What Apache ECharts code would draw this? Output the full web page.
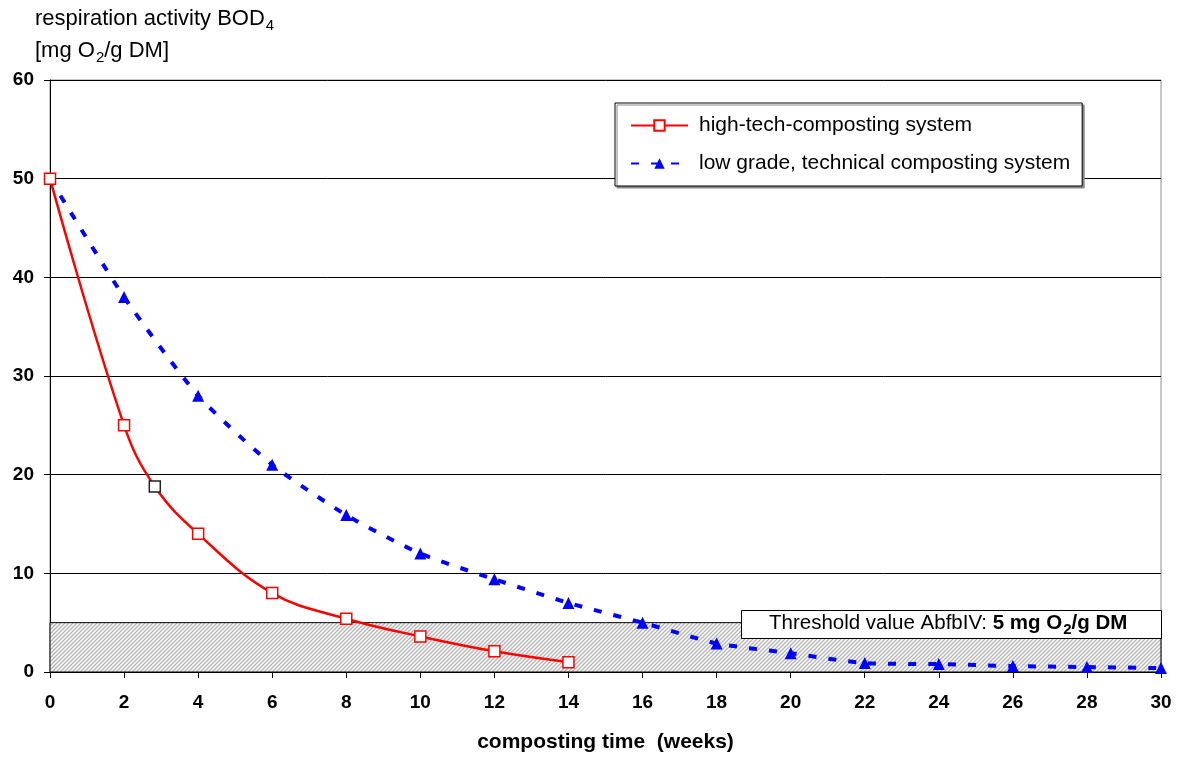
<!DOCTYPE html>
<html>
<head>
<meta charset="utf-8">
<script src="https://cdn.jsdelivr.net/npm/echarts@6/dist/echarts.min.js"></script>
<style>
  html, body { margin: 0; padding: 0; background: #fff; overflow: hidden; }
  #chart { width: 1177px; height: 758px; }
</style>
</head>
<body>
<div id="chart"></div>
<script>
// composting time (weeks) / respiration activity BOD4
var highTechWeeks = [0, 2, 2.83, 4, 6, 8, 10, 12, 14];
var highTechValues = [50, 25, 18.8, 14, 8, 5.4, 3.6, 2.1, 1.0];
var lowGradeWeeks = [0, 2, 4, 6, 8, 10, 12, 14, 16, 18, 20, 22, 24, 26, 28, 30];
var lowGradeValues = [50, 38, 28, 21, 15.9, 12, 9.4, 7, 5, 2.9, 1.9, 0.9, 0.8, 0.6, 0.5, 0.4];
var thresholdValue = 5;
var seriesNames = ['high-tech-composting system', 'low grade, technical composting system'];

var FONT = '"Liberation Sans", Arial, sans-serif';

// hatch pattern for the threshold band
var hatch = document.createElement('canvas');
hatch.width = 4;
hatch.height = 4;
var hc = hatch.getContext('2d');
hc.fillStyle = '#ffffff';
hc.fillRect(0, 0, 4, 4);
hc.strokeStyle = '#b4b4b4';
hc.lineWidth = 1.3;
hc.beginPath();
hc.moveTo(0, 4); hc.lineTo(4, 0);
hc.moveTo(-1, 1); hc.lineTo(1, -1);
hc.moveTo(3, 5); hc.lineTo(5, 3);
hc.stroke();

var highData = highTechWeeks.map(function (w, i) {
    var item = { value: [w, highTechValues[i]] };
    if (i === 2) item.itemStyle = { borderColor: '#222' };
    return item;
});
var lowData = lowGradeWeeks.map(function (w, i) { return [w, lowGradeValues[i]]; });

function richSet(size) {
    return {
        n: { fontSize: size, fontFamily: FONT, color: '#000', lineHeight: 24, verticalAlign: 'bottom' },
        s: { fontSize: 15, fontFamily: FONT, color: '#000', lineHeight: 24, verticalAlign: 'bottom', padding: [0, 0, -3, 1] },
        b: { fontSize: size, fontFamily: FONT, fontWeight: 'bold', color: '#000', lineHeight: 24, verticalAlign: 'bottom' },
        bs: { fontSize: 15, fontFamily: FONT, fontWeight: 'bold', color: '#000', lineHeight: 24, verticalAlign: 'bottom', padding: [0, 0, -3, 1] }
    };
}

var myChart = echarts.init(document.getElementById('chart'));
var option = {
    animation: false,
    textStyle: { fontFamily: FONT },
    grid: {
        left: 50, top: 80, width: 1111, height: 595,
        show: true, borderColor: '#8c8c8c', borderWidth: 1, backgroundColor: 'transparent'
    },
    legend: {
        orient: 'vertical',
        left: 615, top: 103,
        padding: [11, 12, 11, 15],
        itemGap: 15,
        itemWidth: 57, itemHeight: 13,
        backgroundColor: '#fff',
        borderColor: '#000', borderWidth: 1,
        shadowColor: '#8a8a8a', shadowOffsetX: 2, shadowOffsetY: 2, shadowBlur: 0,
        textStyle: { fontSize: 21, color: '#000', fontFamily: FONT, padding: [0, 0, 0, 6], lineHeight: 23 },
        data: seriesNames
    },
    xAxis: {
        type: 'value', min: 0, max: 30, interval: 2,
        name: 'composting time  (weeks)',
        nameLocation: 'middle', nameGap: 60,
        nameTextStyle: { fontSize: 21, fontWeight: 'bold', color: '#000', fontFamily: FONT, verticalAlign: 'top' },
        axisLine: { lineStyle: { color: '#000', width: 1 } },
        axisTick: { show: true, length: 6, lineStyle: { color: '#000' } },
        axisLabel: { fontSize: 19, fontWeight: 'bold', color: '#000', margin: 21 },
        splitLine: { show: false }
    },
    yAxis: {
        type: 'value', min: 0, max: 60, interval: 10,
        axisLine: { show: true, lineStyle: { color: '#000', width: 1 } },
        axisTick: { show: true, length: 6, lineStyle: { color: '#000' } },
        axisLabel: { fontSize: 19, fontWeight: 'bold', color: '#000', margin: 16 },
        splitLine: { show: true, lineStyle: { color: '#000', width: 1 } }
    },
    graphic: [
        { type: 'text', left: 35, top: 8, style: { text: '{n|respiration activity BOD}{s|4}', rich: richSet(22) } },
        { type: 'text', left: 35, top: 40, style: { text: '{n|[mg O}{s|2}{n|/g DM]}', rich: richSet(22) } },
        {
            type: 'rect', left: 741, top: 610, z: 10,
            shape: { width: 420, height: 28 },
            style: { fill: '#fff', stroke: '#000', lineWidth: 1 }
        },
        {
            type: 'text', left: 769, top: 613, z: 11,
            style: {
                text: '{n|Threshold value AbfbIV: }{b|5 mg O}{bs|2}{b|/g DM}',
                rich: richSet(20.5)
            }
        }
    ],
    series: [
        {
            name: seriesNames[0],
            type: 'line',
            smooth: 0.4,
            z: 4,
            symbol: 'rect', symbolSize: 11,
            itemStyle: { color: '#fff', borderColor: '#ff0000', borderWidth: 1.5 },
            lineStyle: { color: '#ff0000', width: 2.5 },
            data: highData,
            markArea: {
                silent: true,
                z: 1,
                itemStyle: { color: { image: hatch, repeat: 'repeat' }, borderColor: '#000', borderWidth: 1 },
                data: [[{ xAxis: 0, yAxis: 0 }, { xAxis: 30, yAxis: thresholdValue }]]
            }
        },
        {
            name: seriesNames[1],
            type: 'line',
            smooth: 0.2,
            z: 3,
            symbol: 'triangle', symbolSize: 12,
            itemStyle: { color: '#0000ff' },
            lineStyle: { color: '#0000ff', width: 4, type: [8, 12] },
            data: lowData
        }
    ]
};
myChart.setOption(option);
window.onresize = myChart.resize;
</script>
</body>
</html>
